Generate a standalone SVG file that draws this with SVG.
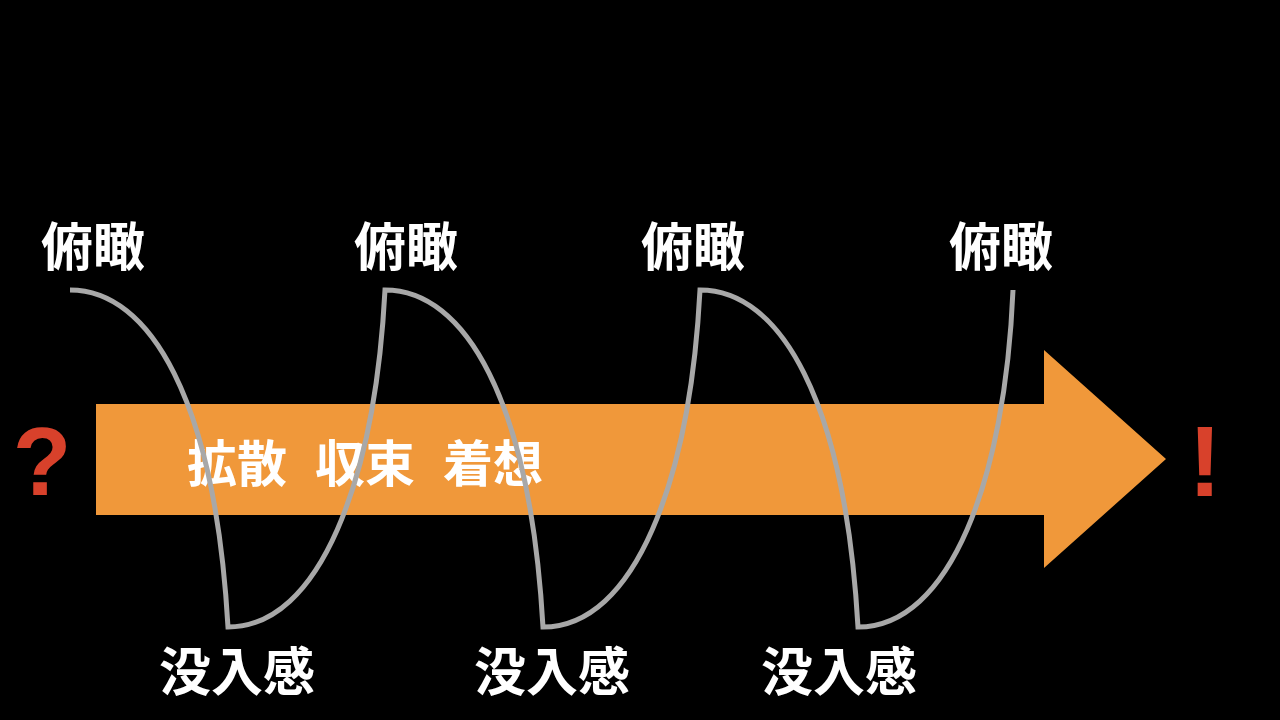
<svg xmlns="http://www.w3.org/2000/svg" width="1280" height="720" viewBox="0 0 1280 720">
  <style>
    .lbl { font-family: "Noto Sans CJK JP", "Noto Sans CJK SC", sans-serif; font-weight: bold; font-size: 52px; fill: #ffffff; text-anchor: middle; }
    .inner { font-family: "Noto Sans CJK JP", "Noto Sans CJK SC", sans-serif; font-weight: bold; font-size: 50px; fill: #ffffff; text-anchor: middle; }
    .mark { font-family: "Liberation Sans", Arial, sans-serif; font-weight: bold; fill: #D8412B; text-anchor: middle; }
    .wave { fill: none; stroke: #A8A8A8; stroke-width: 5; stroke-linejoin: miter; }
  </style>
  <rect x="0" y="0" width="1280" height="720" fill="#000000"/>

  <g id="arrow">
    <polygon points="96,404 1044,404 1044,350 1166,459 1044,568 1044,515 96,515" fill="#F0983A"/>
    <text class="inner" x="237" y="482">拡散</text>
    <text class="inner" x="365" y="482">収束</text>
    <text class="inner" x="493" y="482">着想</text>
  </g>

  <g id="start-mark">
    <text class="mark" x="42" y="495" font-size="96">?</text>
  </g>
  <g id="end-mark">
    <text class="mark" x="1205" y="496" font-size="100">!</text>
  </g>

  <g id="top-labels">
    <text class="lbl" x="93" y="266">俯瞰</text>
    <text class="lbl" x="406" y="266">俯瞰</text>
    <text class="lbl" x="693" y="266">俯瞰</text>
    <text class="lbl" x="1001" y="266">俯瞰</text>
  </g>

  <g id="bottom-labels">
    <text class="lbl" x="237" y="691">没入感</text>
    <text class="lbl" x="552" y="691">没入感</text>
    <text class="lbl" x="839" y="691">没入感</text>
  </g>

  <g id="connectors">
    <path class="wave" d="M70,290 C150,290 215,400 228,627
      C320,627 375,480 385,290
      C465,290 530,400 543,627
      C635,627 690,480 700,290
      C780,290 845,400 858,627
      C950,627 1005,480 1013,290"/>
  </g>
</svg>
